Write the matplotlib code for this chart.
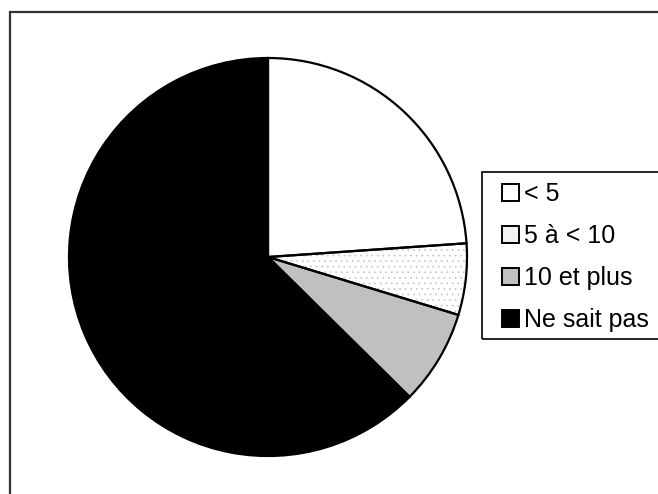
import matplotlib
matplotlib.use("Agg")
import matplotlib.pyplot as plt
from matplotlib.patches import Rectangle

# data (percent)
labels = ['< 5', '5 à < 10', '10 et plus', 'Ne sait pas']
values = [23.9, 5.8, 7.7, 62.6]
colors = ['white', 'white', '#c0c0c0', 'black']
hatches = [None, '...', None, None]

plt.rcParams['font.family'] = ['Liberation Sans', 'DejaVu Sans']
plt.rcParams['hatch.linewidth'] = 0.5

W, H = 658, 494
fig = plt.figure(figsize=(W / 100, H / 100), dpi=100)

# outer frame, cut off at right and bottom like the original
fig.patches.append(Rectangle((10 / W, -0.1), 1.2, 1 - 12 / H + 0.1,
                             transform=fig.transFigure, fill=False,
                             edgecolor='#333333', linewidth=1.6))

cx, cy, r = 268, 257, 200
ax = fig.add_axes([(cx - r) / W, (H - cy - r) / H, 2 * r / W, 2 * r / H])

# fill layer (hatch takes the edge colour)
wedges, _ = ax.pie(values, colors=colors, startangle=90, counterclock=False,
                   radius=1, wedgeprops=dict(linewidth=0, edgecolor='#c4c4c4'))
for w, h in zip(wedges, hatches):
    if h:
        w.set_hatch(h)
# outline layer
ax.pie(values, colors=colors, startangle=90, counterclock=False, radius=1,
       wedgeprops=dict(fill=False, linewidth=1.6, edgecolor='black'))
ax.set_xlim(-1.005, 1.005)
ax.set_ylim(-1.005, 1.005)
ax.set_aspect('auto')
ax.axis('off')

# legend box
fig.patches.append(Rectangle((482 / W, (H - 339) / H), 0.5, (339 - 172) / H,
                             transform=fig.transFigure, fill=False,
                             edgecolor='black', linewidth=1.2))

handles = []
for c, h in zip(colors, hatches):
    p = Rectangle((0, 0), 1, 1, facecolor=c, edgecolor='black', linewidth=1.4)
    if h:
        p.set_facecolor('#f2f2f2')
    handles.append(p)
fig.legend(handles, labels, loc='upper left',
           bbox_to_anchor=(502 / W, 1 - 182 / H),
           bbox_transform=fig.transFigure, frameon=False, fontsize=18,
           handlelength=0.66, handleheight=0.66, handletextpad=0.2,
           labelspacing=0.72, borderpad=0, borderaxespad=0)

fig.savefig('out.png', dpi=100)
